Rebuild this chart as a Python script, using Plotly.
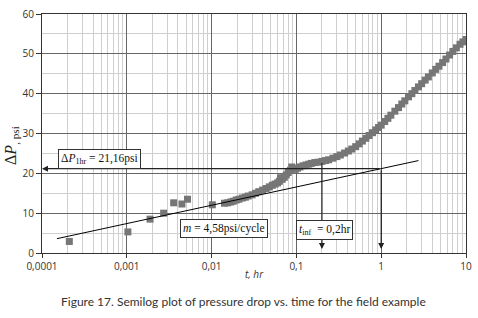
import math
import plotly.graph_objects as go

# ---- data ----
t_early = [0.00021, 0.00103, 0.00188, 0.00272, 0.00357, 0.00447, 0.0052, 0.0102]
dp_early = [2.9, 5.3, 8.5, 10.0, 12.6, 12.3, 13.5, 12.1]

t_main = [0.0142, 0.0155, 0.0168, 0.018, 0.0195, 0.021, 0.023, 0.025, 0.027, 0.030,
          0.033, 0.036, 0.040, 0.044, 0.048, 0.052, 0.056, 0.060, 0.063, 0.065,
          0.068, 0.072, 0.076, 0.080, 0.085, 0.088, 0.092, 0.097, 0.103, 0.11,
          0.12, 0.13, 0.14, 0.15, 0.165, 0.18, 0.20, 0.22, 0.24, 0.27,
          0.30, 0.33, 0.37, 0.41, 0.45, 0.50, 0.55, 0.60, 0.66, 0.72,
          0.79, 0.86, 0.93, 1.0, 1.1, 1.2, 1.3, 1.45, 1.6, 1.75,
          1.9, 2.1, 2.3, 2.5, 2.75, 3.0, 3.3, 3.6, 4.0, 4.4,
          4.8, 5.3, 5.8, 6.4, 7.0, 7.7, 8.5, 9.2, 10.0]
dp_main = [12.5, 12.6, 12.8, 13.0, 13.3, 13.5, 13.8, 14.0, 14.3, 14.6,
           15.0, 15.4, 15.8, 16.2, 16.6, 17.0, 17.3, 17.6, 18.0, 18.9,
           18.5, 19.0, 19.6, 20.2, 20.8, 21.6, 21.2, 21.0, 21.3, 21.6,
           21.9, 22.1, 22.3, 22.5, 22.7, 22.8, 23.0, 23.2, 23.4, 23.8,
           24.2, 24.6, 25.1, 25.6, 26.1, 26.7, 27.4, 28.1, 28.8, 29.5,
           30.2, 30.9, 31.5, 32.1, 33.0, 33.8, 34.6, 35.6, 36.5, 37.4,
           38.2, 39.2, 40.0, 40.8, 41.7, 42.5, 43.4, 44.2, 45.2, 46.1,
           46.9, 47.8, 48.7, 49.7, 50.6, 51.5, 52.4, 53.0, 53.6]

line_t = [0.00015, 2.75]
line_dp = [3.6, 23.2]

dp_1hr = 21.16
t_inf = 0.2
dp_inf = 23.0
x_tickvals = [0.0001, 0.001, 0.01, 0.1, 1, 10]
x_ticktext = ["0,0001", "0,001", "0,01", "0,1", "1", "10"]
y_tickvals = [0, 10, 20, 30, 40, 50, 60]

# grid positions for the minor lines
x_minor = [k * 10.0 ** e for e in range(-4, 1) for k in range(2, 10)]
y_minor = [5, 15, 25, 35, 45, 55]

GRAY = "#767676"

fig = go.Figure()
fig.add_trace(go.Scatter(x=t_early + t_main, y=dp_early + dp_main, mode="markers",
                         marker=dict(symbol="square", size=7, color=GRAY),
                         hoverinfo="skip"))
fig.add_trace(go.Scatter(x=line_t, y=line_dp, mode="lines",
                         line=dict(color="black", width=1), hoverinfo="skip"))

arrow = dict(showarrow=True, arrowhead=2, arrowsize=1, arrowwidth=1.2,
             arrowcolor="#222", axref="x", ayref="y", text="", standoff=0)
fig.add_annotation(x=math.log10(0.0001), y=dp_1hr, ax=math.log10(1), ay=dp_1hr, **arrow)
fig.add_annotation(x=math.log10(t_inf), y=1.0, ax=math.log10(t_inf), ay=dp_inf, **arrow)
fig.add_annotation(x=math.log10(1), y=1.0, ax=math.log10(1), ay=dp_1hr, **arrow)

box = dict(showarrow=False, bgcolor="white", bordercolor="#333", borderwidth=1,
           borderpad=2, font=dict(family="Liberation Serif, Times New Roman, serif",
                                  size=11.5, color="#111"))
fig.add_annotation(x=-3.327, y=23.7,
                   text="Δ<i>P</i><sub>1hr</sub> = 21,16psi", **box)
fig.add_annotation(x=-1.854, y=6.1,
                   text="<i>m</i> = 4,58psi/cycle", **box)
fig.add_annotation(x=-0.665, y=5.7,
                   text="<i>t</i><sub>inf</sub>  = 0,2hr", **box)

# axis titles and caption
fig.add_annotation(xref="paper", yref="paper", x=0.5, y=-0.05, yanchor="top",
                   showarrow=False, text="<i>t, hr</i>",
                   font=dict(family="Open Sans, sans-serif", size=10, color="#333"))
fig.add_annotation(xref="paper", yref="paper", x=-0.072, y=0.45, textangle=-90,
                   xanchor="center", yanchor="middle", showarrow=False,
                   text="Δ<i>P</i><sub>, psi</sub>",
                   font=dict(family="Liberation Serif, serif", size=16, color="#222"))
fig.add_annotation(xref="paper", yref="paper", x=0.475, y=-0.165, yanchor="top",
                   showarrow=False,
                   text="Figure 17. Semilog plot of pressure drop vs. time for the field example",
                   font=dict(family="Lato, Noto Sans, sans-serif", size=12, color="#333"))

fig.update_layout(
    width=478, height=318, autosize=False, showlegend=False,
    margin=dict(l=42, r=11, t=6, b=65),
    paper_bgcolor="white", plot_bgcolor="white",
    xaxis=dict(type="log", range=[-4, 1], tickmode="array",
               tickvals=x_tickvals, ticktext=x_ticktext,
               showgrid=True, gridcolor="#666666", gridwidth=1,
               minor=dict(tickmode="array", tickvals=x_minor, showgrid=True,
                          gridcolor="#cfcfcf", gridwidth=1, ticks=""),
               showline=True, linecolor="#333", linewidth=1, mirror=True,
               ticks="outside", ticklen=4, tickcolor="#333",
               tickfont=dict(family="Open Sans, sans-serif", size=10, color="#333"),
               zeroline=False),
    yaxis=dict(range=[0, 60.0001], tickmode="array", tickvals=y_tickvals, showgrid=True,
               gridcolor="#666666", gridwidth=1,
               minor=dict(tickmode="array", tickvals=y_minor, showgrid=True,
                          gridcolor="#cfcfcf", gridwidth=1, ticks=""),
               showline=True, linecolor="#333", linewidth=1, mirror=True,
               ticks="outside", ticklen=5, tickcolor="#333",
               tickfont=dict(family="Open Sans, sans-serif", size=10, color="#333"),
               ticklabeloverflow="allow",
               zeroline=False),
)

fig.write_html("out.html", config={"displayModeBar": False},
               post_script="document.body.style.margin='0px';")
